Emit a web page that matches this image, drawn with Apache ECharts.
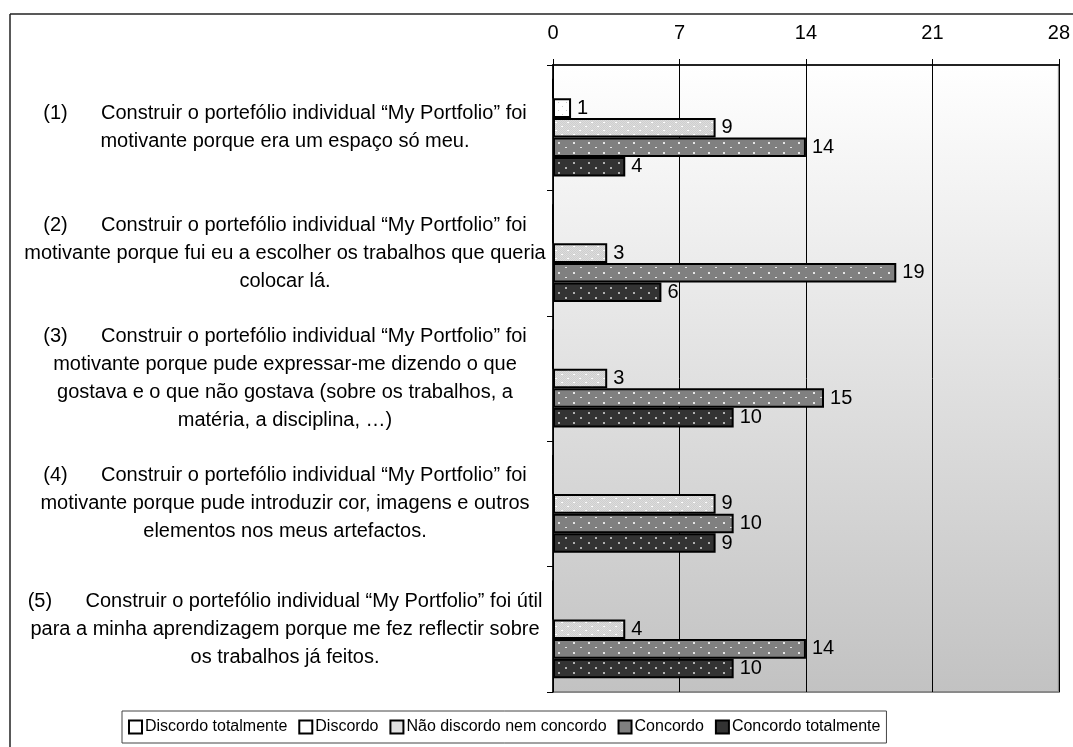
<!DOCTYPE html>
<html>
<head>
<meta charset="utf-8">
<title>My Portfolio – opiniões</title>
<script src="https://cdn.jsdelivr.net/npm/echarts@6/dist/echarts.min.js"></script>
<style>
  html, body { margin: 0; padding: 0; background: #fff; }
  #chart { width: 1073px; height: 747px; }
</style>
</head>
<body>
<div id="chart"></div>
<script>
// Statements (one per category, already wrapped into lines)
const categories = [
  '(1)      Construir o portefólio individual “My Portfolio” foi\nmotivante porque era um espaço só meu.',
  '(2)      Construir o portefólio individual “My Portfolio” foi\nmotivante porque fui eu a escolher os trabalhos que queria\ncolocar lá.',
  '(3)      Construir o portefólio individual “My Portfolio” foi\nmotivante porque pude expressar-me dizendo o que\ngostava e o que não gostava (sobre os trabalhos, a\nmatéria, a disciplina, …)',
  '(4)      Construir o portefólio individual “My Portfolio” foi\nmotivante porque pude introduzir cor, imagens e outros\nelementos nos meus artefactos.',
  '(5)      Construir o portefólio individual “My Portfolio” foi útil\npara a minha aprendizagem porque me fez reflectir sobre\nos trabalhos já feitos.'
];

// Answer counts per statement
const discordoTotalmente = [0, 0, 0, 0, 0];
const discordo           = [1, 0, 0, 0, 0];
const naoDiscordo        = [9, 3, 3, 9, 4];
const concordo           = [14, 19, 15, 10, 14];
const concordoTotalmente = [4, 6, 10, 9, 10];

const seriesNames = ['Discordo totalmente', 'Discordo', 'Não discordo nem concordo', 'Concordo', 'Concordo totalmente'];
const axisTicks = [0, 7, 14, 21, 28];

const FONT = '"Liberation Sans", Arial, Helvetica, sans-serif';

// Small tiled fills for the bars
function pattern(w, h, base, draw) {
  const c = document.createElement('canvas');
  c.width = w; c.height = h;
  const g = c.getContext('2d');
  g.fillStyle = base;
  g.fillRect(0, 0, w, h);
  draw(g);
  return { image: c, repeat: 'repeat' };
}
const fillWhite = '#ffffff';
const fillDots = pattern(8, 8, '#ffffff', g => {
  g.fillStyle = '#c8c8c8';
  g.fillRect(2, 2, 1, 1);
  g.fillRect(6, 6, 1, 1);
});
const fillLight = pattern(12, 8, '#dcdcdc', g => {
  for (let y = 0; y < 8; y++) for (let x = 0; x < 12; x++) {
    if ((x + y) % 2 === 0) { g.fillStyle = '#cfcfcf'; g.fillRect(x, y, 1, 1); }
  }
  g.fillStyle = '#ffffff';
  g.fillRect(3, 2, 2, 1);
  g.fillRect(9, 6, 2, 1);
});
const fillMid = pattern(15, 10, '#808080', g => {
  g.fillStyle = '#e6e6e6';
  g.fillRect(3, 2, 2, 2);
  g.fillRect(10, 7, 2, 1);
});
const fillDark = pattern(15, 10, '#333333', g => {
  g.fillStyle = '#b0b0b0';
  g.fillRect(3, 2, 2, 2);
  g.fillRect(10, 7, 2, 2);
});

const fills = [fillWhite, fillDots, fillLight, fillMid, fillDark];
const legendFills = ['#ffffff', '#ffffff', '#e2e2e2', '#808080', '#333333'];
const values = [discordoTotalmente, discordo, naoDiscordo, concordo, concordoTotalmente];

const chart = echarts.init(document.getElementById('chart'), null, { renderer: 'canvas' });

chart.setOption({
  backgroundColor: '#ffffff',
  animation: false,
  textStyle: { fontFamily: FONT },
  grid: {
    left: 553, right: 10, top: 65, bottom: 55,
    show: true,
    borderColor: '#8a8a8a',
    borderWidth: 2,
    backgroundColor: {
      type: 'linear', x: 0, y: 0, x2: 0, y2: 1,
      colorStops: [
        { offset: 0, color: '#ffffff' },
        { offset: 1, color: '#c2c2c2' }
      ]
    }
  },
  xAxis: {
    type: 'value',
    position: 'top',
    min: axisTicks[0],
    max: axisTicks[axisTicks.length - 1],
    interval: axisTicks[1] - axisTicks[0],
    axisLine: { show: true, lineStyle: { color: '#000', width: 1.5 } },
    axisTick: { show: true, length: 6, lineStyle: { color: '#000', width: 1 } },
    axisLabel: { color: '#000', fontSize: 20, margin: 22, fontFamily: FONT },
    splitLine: { show: true, lineStyle: { color: '#000', width: 1 } }
  },
  yAxis: {
    type: 'category',
    inverse: true,
    data: categories,
    axisLine: { show: true, lineStyle: { color: '#000', width: 1.5 } },
    axisTick: { show: true, length: 6, lineStyle: { color: '#000', width: 1 } },
    axisLabel: {
      color: '#000', fontSize: 20, lineHeight: 28, margin: 268,
      align: 'center', fontFamily: FONT
    }
  },
  legend: {
    left: 122, top: 711,
    orient: 'horizontal',
    itemWidth: 13, itemHeight: 13, itemGap: 11,
    padding: [8, 6, 8, 6],
    borderColor: '#444', borderWidth: 1,
    backgroundColor: '#fff',
    icon: 'rect',
    textStyle: { color: '#000', fontSize: 16, padding: [0, 0, 0, -2], fontFamily: FONT },
    data: seriesNames.map((n, i) => ({
      name: n,
      itemStyle: { color: legendFills[i], borderColor: '#000', borderWidth: 2 }
    }))
  },
  graphic: [
    // outer frame (top and left edges)
    { type: 'line', silent: true, shape: { x1: 10, y1: 14, x2: 1073, y2: 14 }, style: { stroke: '#222', lineWidth: 1.5 } },
    { type: 'line', silent: true, shape: { x1: 10, y1: 14, x2: 10, y2: 747 }, style: { stroke: '#222', lineWidth: 1.5 } }
  ],
  series: seriesNames.map((n, i) => ({
    name: n,
    type: 'bar',
    data: values[i],
    barGap: '0%',
    barCategoryGap: '22%',
    itemStyle: { color: fills[i], borderColor: '#000', borderWidth: 2 },
    label: {
      show: true,
      position: 'right',
      distance: 6,
      color: '#000',
      fontSize: 20,
      fontFamily: FONT,
      formatter: p => (p.value ? String(p.value) : '')
    }
  }))
});
</script>
</body>
</html>
